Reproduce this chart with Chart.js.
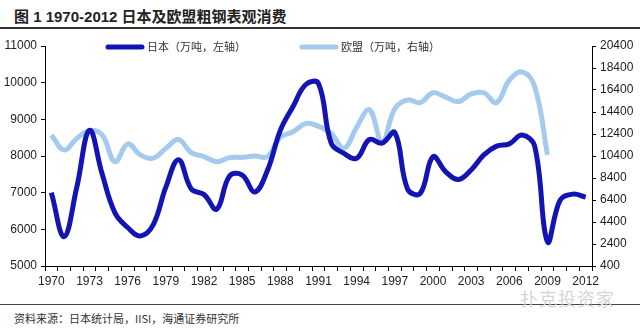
<!DOCTYPE html>
<html>
<head>
<meta charset="utf-8">
<script src="https://cdn.jsdelivr.net/npm/chart.js@4/dist/chart.umd.min.js"></script>
<style>
  body { margin: 0; width: 640px; height: 328px; background: #fff; position: relative; overflow: hidden; }
  #title { position: absolute; left: 14px; top: 5px; font: bold 15px "Liberation Sans", "Noto Sans CJK SC", sans-serif; color: #222; white-space: nowrap; }
  #titleLine { position: absolute; left: 0; top: 27px; width: 640px; height: 2px; background: #333; }
  #box { position: absolute; left: 0; top: 30px; width: 640px; height: 270px; }
  #footLine { position: absolute; left: 0; top: 304px; width: 640px; height: 1px; background: #444; }
  #source { position: absolute; left: 14px; top: 310px; font: 11px "Noto Sans CJK SC", sans-serif; color: #333; white-space: nowrap; }
  #mark { position: absolute; left: 520px; top: 285px; font: 18px "Noto Sans CJK SC", sans-serif; color: #d4d4d4; letter-spacing: 1px; white-space: nowrap; }
</style>
</head>
<body>
<div id="title">图 1 1970-2012 日本及欧盟粗钢表观消费</div>
<div id="titleLine"></div>
<div id="box"><canvas id="chart"></canvas></div>
<div id="footLine"></div>
<div id="mark">扑克投资家</div>
<div id="source">资料来源：日本统计局，IISI，海通证券研究所</div>
<script>
const years = ['1970','1971','1972','1973','1974','1975','1976','1977','1978','1979',
  '1980','1981','1982','1983','1984','1985','1986','1987','1988','1989',
  '1990','1991','1992','1993','1994','1995','1996','1997','1998','1999',
  '2000','2001','2002','2003','2004','2005','2006','2007','2008','2009',
  '2010','2011','2012'];

// 日本, 万吨, left axis
const japan = [7000, 5800, 7150, 8700, 7500, 6450, 6050, 5820, 6120, 7150,
  7900, 7100, 6950, 6550, 7450, 7480, 7020, 7620, 8700, 9350,
  9950, 9980, 8350, 8070, 7940, 8450, 8350, 8640, 7100, 6980,
  7980, 7570, 7360, 7620, 8030, 8270, 8330, 8570, 8260, 5660,
  6800, 6960, 6880];

// 欧盟, 万吨, right axis (no data after 2009)
const eu = [12300, 10950, 12000, 12700, 12300, 9880, 11500, 10500, 10200, 11100,
  11900, 10700, 10350, 9880, 10250, 10280, 10400, 10350, 12100, 12600,
  13350, 13100, 12450, 11100, 13000, 14600, 11700, 14700, 15500, 15250,
  16150, 15750, 15350, 16050, 16150, 15250, 17300, 18050, 16700, 10500,
  null, null, null];

const leftTicks = [5000, 6000, 7000, 8000, 9000, 10000, 11000];
const rightTicks = [400, 2400, 4400, 6400, 8400, 10400, 12400, 14400, 16400, 18400, 20400];

const japanColor = '#1414b4';
const euColor = '#a4cbee';
const tickFont = { family: '"Liberation Sans", Arial, sans-serif', size: 12 };

// legend sits on top of the plot area, like the original
const topLegend = {
  id: 'topLegend',
  afterDraw(chart) {
    const ctx = chart.ctx;
    const y = chart.chartArea.top;
    const items = [
      { x: 108, label: '日本（万吨，左轴）', color: japanColor },
      { x: 302, label: '欧盟（万吨，右轴）', color: euColor }
    ];
    ctx.save();
    ctx.font = '11px "Noto Sans CJK SC", sans-serif';
    ctx.textBaseline = 'middle';
    items.forEach(it => {
      ctx.strokeStyle = it.color;
      ctx.lineWidth = 5;
      ctx.lineCap = 'round';
      ctx.beginPath();
      ctx.moveTo(it.x, y + 1);
      ctx.lineTo(it.x + 34, y + 1);
      ctx.stroke();
      ctx.fillStyle = '#333';
      ctx.fillText(it.label, it.x + 39, y + 1);
    });
    ctx.restore();
  }
};

const axisGrid = { display: true, drawOnChartArea: false, drawTicks: true, tickLength: 4, color: '#000' };
const axisBorder = { display: true, color: '#000', width: 1 };
const plainNum = v => String(v);

new Chart(document.getElementById('chart'), {
  type: 'line',
  data: {
    labels: years,
    datasets: [
      {
        label: '日本（万吨，左轴）',
        data: japan,
        yAxisID: 'yL',
        borderColor: japanColor,
        borderWidth: 5,
        pointRadius: 0,
        tension: 0.4,
        fill: false
      },
      {
        label: '欧盟（万吨，右轴）',
        data: eu,
        yAxisID: 'yR',
        borderColor: euColor,
        borderWidth: 5,
        pointRadius: 0,
        tension: 0.4,
        fill: false
      }
    ]
  },
  options: {
    responsive: true,
    maintainAspectRatio: false,
    animation: false,
    layout: { padding: { top: 16, left: 0, right: 0, bottom: 0 } },
    plugins: { legend: { display: false }, tooltip: { enabled: false } },
    scales: {
      x: {
        offset: true,
        grid: { ...axisGrid, tickLength: 5, offset: true },
        border: axisBorder,
        ticks: {
          autoSkip: false,
          maxRotation: 0,
          padding: 3,
          font: tickFont,
          color: '#222',
          callback: (v, i) => (i % 3 === 0 ? years[i] : '')
        },
        afterFit: s => { s.height = 34; }
      },
      yL: {
        position: 'left',
        min: leftTicks[0],
        max: leftTicks[leftTicks.length - 1],
        grid: axisGrid,
        border: axisBorder,
        afterBuildTicks: s => { s.ticks = leftTicks.map(v => ({ value: v })); },
        ticks: { padding: 4, font: tickFont, color: '#222', callback: plainNum },
        afterFit: s => { s.width = 45; }
      },
      yR: {
        position: 'right',
        min: rightTicks[0],
        max: rightTicks[rightTicks.length - 1],
        grid: axisGrid,
        border: axisBorder,
        afterBuildTicks: s => { s.ticks = rightTicks.map(v => ({ value: v })); },
        ticks: { padding: 4, font: tickFont, color: '#222', callback: plainNum },
        afterFit: s => { s.width = 48; }
      }
    }
  },
  plugins: [topLegend]
});
</script>
</body>
</html>
